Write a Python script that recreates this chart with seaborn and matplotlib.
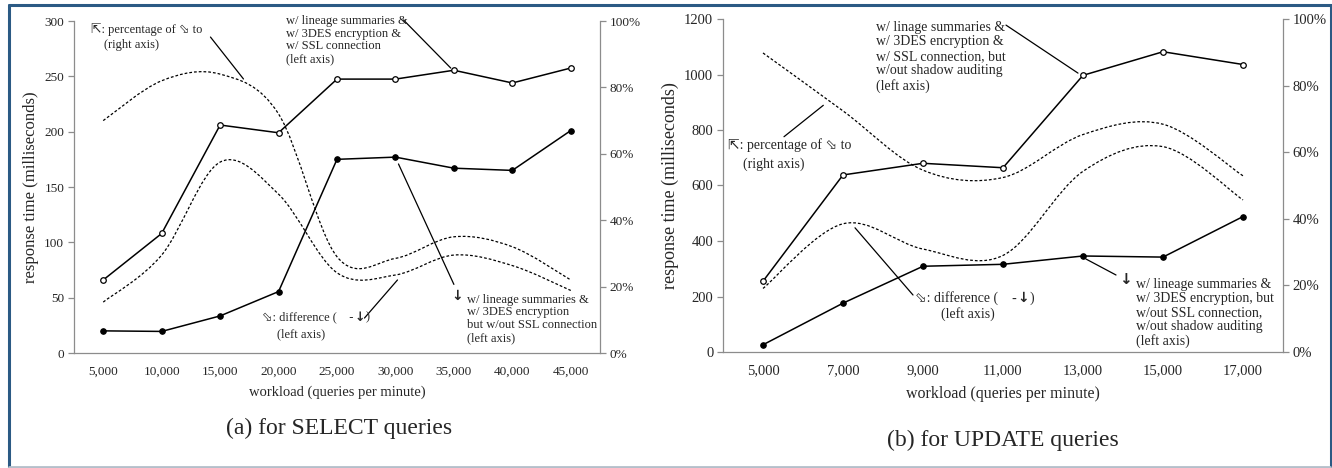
import numpy as np
import pandas as pd

import matplotlib
matplotlib.use("Agg")
import matplotlib.pyplot as plt
from matplotlib.path import Path
from matplotlib.patches import PathPatch
from matplotlib.lines import Line2D
from matplotlib.ticker import PercentFormatter
import seaborn as sns

# (a) SELECT queries
select_workload = ["5,000", "10,000", "15,000", "20,000", "25,000",
                   "30,000", "35,000", "40,000", "45,000"]
select_ssl = [66, 108, 206, 199, 247.5, 247.5, 255.5, 244, 257.5]
select_no_ssl = [20, 19.5, 33.5, 55.5, 175, 177, 167, 165, 201]
select_diff = [46, 88.5, 172.5, 143.5, 72.5, 70.5, 88.5, 79, 56.5]
select_pct = [0.70, 0.82, 0.84, 0.72, 0.29, 0.285, 0.35, 0.32, 0.22]

# (b) UPDATE queries
update_workload = ["5,000", "7,000", "9,000", "11,000", "13,000", "15,000", "17,000"]
update_ssl = [255, 638, 680, 664, 997, 1082, 1036]
update_no_ssl = [26, 176, 309, 316, 346, 342, 488]
update_diff = [229, 462, 371, 348, 651, 740, 548]
update_pct = [0.898, 0.724, 0.546, 0.524, 0.653, 0.684, 0.529]

W, H = 1332, 468
GRAY = "#8c8c8c"
DASH = (0, (2.2, 1.6))

sns.set_style("white")
plt.rcParams["font.family"] = ["Liberation Serif", "DejaVu Sans"]


def smooth(ax, ys):
    # Excel-style smoothed line: Catmull-Rom bezier through the points
    pts = np.column_stack([np.arange(len(ys)), ys]).astype(float)
    ext = np.vstack([pts[0], pts, pts[-1]])
    verts, codes = [pts[0]], [Path.MOVETO]
    for i in range(len(pts) - 1):
        p0, p1, p2, p3 = ext[i], ext[i + 1], ext[i + 2], ext[i + 3]
        verts += [p1 + (p2 - p0) / 6, p2 - (p3 - p1) / 6, p2]
        codes += [Path.CURVE4] * 3
    ax.add_patch(PathPatch(Path(verts, codes), fill=False, ec="black",
                           lw=0.9, ls=DASH, transform=ax.transData))


def panel(rect, labels, ssl, no_ssl, diff, pct, ymax, ystep, fs):
    ax = fig.add_axes(rect)
    n = len(labels)
    df = pd.DataFrame({"pos": np.arange(n), "ssl": ssl, "no_ssl": no_ssl})
    sns.lineplot(data=df, x="pos", y="ssl", ax=ax, color="black", lw=1.1,
                 marker="o", markersize=4, markerfacecolor="white",
                 markeredgecolor="black", markeredgewidth=0.9)
    sns.lineplot(data=df, x="pos", y="no_ssl", ax=ax, color="black", lw=1.1,
                 marker="o", markersize=4, markerfacecolor="black",
                 markeredgecolor="black")
    smooth(ax, diff)

    ax.set_xlim(-0.5, n - 0.5)
    ax.set_ylim(0, ymax)
    ax.set_xticks(np.arange(n))
    ax.set_xticklabels(labels, fontsize=fs)
    ax.set_xticks(np.arange(n + 1) - 0.5, minor=True)
    ax.tick_params(axis="x", which="major", length=0, pad=9)
    ax.tick_params(axis="x", which="minor", length=4, color=GRAY, width=0.9)
    ax.set_yticks(np.arange(0, ymax + 1, ystep))
    ax.tick_params(axis="y", length=4, color=GRAY, width=0.9, labelsize=fs, pad=3)
    ax.set_xlabel("workload (queries per minute)", fontsize=fs + 1, labelpad=6)
    ax.set_ylabel("response time (milliseconds)", fontsize=fs + 2.5, labelpad=4)
    for s in ["top", "right"]:
        ax.spines[s].set_visible(False)
    for s in ["left", "bottom"]:
        ax.spines[s].set_color(GRAY)
        ax.spines[s].set_linewidth(0.9)

    ax2 = ax.twinx()
    smooth(ax2, pct)
    ax2.set_ylim(0, 1)
    ax2.set_yticks(np.linspace(0, 1, 6))
    ax2.yaxis.set_major_formatter(PercentFormatter(1.0, decimals=0))
    ax2.tick_params(axis="y", length=4, color=GRAY, width=0.9, labelsize=fs, pad=3)
    for s in ["top", "left", "bottom"]:
        ax2.spines[s].set_visible(False)
    ax2.spines["right"].set_color(GRAY)
    ax2.spines["right"].set_linewidth(0.9)
    return ax


def leader(ax, x0, y0, x1, y1):
    ax.add_line(Line2D([x0, x1], [y0, y1], color="black", lw=0.9, clip_on=False))


def down_arrow(ax, x, y, size):
    ax.text(x, y, "\u2193", fontsize=size, va="center", ha="center",
            family="DejaVu Sans", fontweight="bold")


def diff_label(ax, x, y, fs):
    t = ax.text(x, y, "\u2b02: difference (    -", fontsize=fs, va="center")
    a = ax.annotate("\u2193", xy=(1, 0.5), xycoords=t, xytext=(0.5, 0),
                    textcoords="offset points", va="center", ha="left",
                    fontsize=fs, family="DejaVu Sans", fontweight="bold")
    ax.annotate(")", xy=(1, 0.5), xycoords=a, xytext=(0.5, 0),
                textcoords="offset points", va="center", ha="left", fontsize=fs)


fig = plt.figure(figsize=(W / 100, H / 100), dpi=100)

# ---- (a) SELECT ----
axa = panel([74 / W, 1 - 353 / H, 526 / W, 332 / H], select_workload,
            select_ssl, select_no_ssl, select_diff, select_pct, 300, 50, 9.5)
fs = 9
axa.text(-0.217, 292, "\u21f1: percentage of \u2b02 to", fontsize=fs, va="center")
axa.text(0.02, 278.5, "(right axis)", fontsize=fs, va="center")
leader(axa, 1.835, 285.5, 2.40, 247.6)

axa.text(3.119, 282.8, "w/ lineage summaries &\nw/ 3DES encryption &\nw/ SSL connection\n(left axis)",
         fontsize=fs, va="center", linespacing=1.1)
leader(axa, 5.138, 300.9, 5.946, 257.5)

diff_label(axa, 2.725, 31.9, fs)
axa.text(2.965, 17.2, "(left axis)", fontsize=fs, va="center")
leader(axa, 5.035, 66.0, 4.47, 31.6)

leader(axa, 5.052, 170.8, 6.0, 62)
down_arrow(axa, 6.06, 51.5, fs + 1)
axa.text(6.22, 30.8, "w/ lineage summaries &\nw/ 3DES encryption\nbut w/out SSL connection\n(left axis)",
         fontsize=fs, va="center", linespacing=1.1)

# ---- (b) UPDATE ----
axb = panel([723 / W, 1 - 352 / H, 560 / W, 333 / H], update_workload,
            update_ssl, update_no_ssl, update_diff, update_pct, 1200, 200, 10.5)
fs = 10
axb.text(1.4125, 1063, "w/ linage summaries &\nw/ 3DES encryption &\nw/ SSL connection, but\nw/out shadow auditing\n(left axis)",
         fontsize=fs, va="center", linespacing=1.15)
leader(axb, 3.0375, 1178, 3.9375, 1005)

axb.text(-0.441, 746, "\u21f1: percentage of \u2b02 to", fontsize=fs, va="center")
axb.text(-0.254, 677.5, "(right axis)", fontsize=fs, va="center")
leader(axb, 0.2625, 775.8, 0.754, 889)

diff_label(axb, 1.9, 194.6, fs)
axb.text(2.225, 136.9, "(left axis)", fontsize=fs, va="center")
leader(axb, 1.15, 447.6, 1.875, 205.4)

leader(axb, 4.0375, 335, 4.4125, 277.5)
down_arrow(axb, 4.525, 259.5, fs + 1)
axb.text(4.6625, 140.5, "w/ lineage summaries &\nw/ 3DES encryption, but\nw/out SSL connection,\nw/out shadow auditing\n(left axis)",
         fontsize=fs, va="center", linespacing=1.1)

# captions
fig.text(339 / W, 1 - 428 / H, "(a) for SELECT queries", fontsize=17, ha="center", va="center")
fig.text(1003 / W, 1 - 440 / H, "(b) for UPDATE queries", fontsize=17, ha="center", va="center")

# frame
dark, light = "#2b5a84", "#b4bfca"
fig.add_artist(Line2D([8.5 / W, 1], [1 - 5 / H, 1 - 5 / H], color=dark, lw=2.2))
fig.add_artist(Line2D([8.5 / W, 8.5 / W], [1 - 5 / H, 1 / H], color=dark, lw=2.2))
fig.add_artist(Line2D([1330.5 / W, 1330.5 / W], [1 - 5 / H, 1 / H], color=dark, lw=2.2))
fig.add_artist(Line2D([8.5 / W, 1330 / W], [1.2 / H, 1.2 / H], color=light, lw=2))

fig.savefig("out.png", dpi=100)
